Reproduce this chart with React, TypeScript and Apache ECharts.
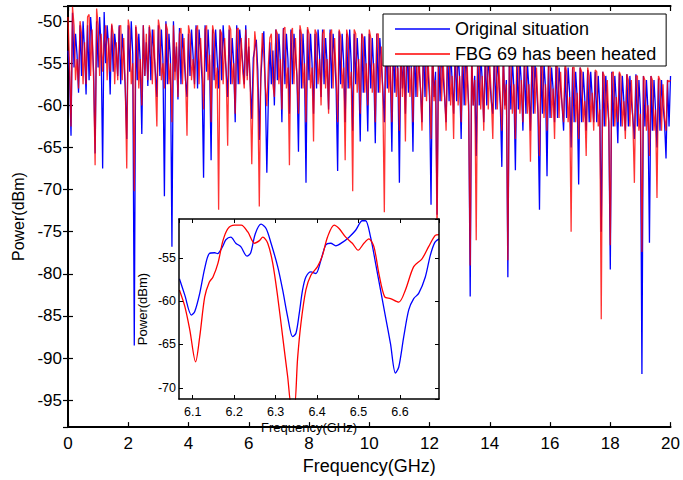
import React, { useEffect, useRef } from "react";
import * as echarts from "echarts";

// Main spectrum: sampled every 0.05 GHz from 0 to 20 GHz (401 samples)
const STEP_GHZ = 0.05;

const BLUE_0_5 = [
  -53.5, -56, -63.6, -49, -55.5, -51.5, -54, -58.5, -50.5, -56.5,
  -50, -53.5, -58.7, -50.5, -57, -49.5, -52, -56, -65.7, -50,
  -55.5, -49.5, -53, -67.5, -48.9, -55, -50.5, -53, -58.7, -50.5,
  -56, -51.5, -53.5, -56.5, -50.5, -57.5, -51.5, -54, -58, -64,
  -50.5, -56, -50, -54, -88.5, -50.7, -57, -51.5, -55, -63.4,
  -50.5, -56.5, -52.5, -57.7, -50.7, -57, -51, -53.5, -56, -59,
  -50.5, -56.5, -51, -54.5, -70.8, -50, -57.5, -51.5, -54.5, -76.8,
  -50, -56, -53, -59.3, -50.8, -57.5, -51.5, -54, -57, -59,
  -51.5, -56.5, -51, -54, -57.5, -50.5, -58, -51, -53.5, -57,
  -68.6, -50.5, -56, -51, -55, -66.5, -51, -57, -51, -54.5,
];
const BLUE_5_10 = [
  -58, -51, -57, -50.5, -53.5, -56, -59, -51, -57.5, -52,
  -55, -62, -50.5, -57.5, -51, -53, -55, -57.5, -50.5, -56.5,
  -53, -57.5, -61.6, -54.4, -53.3, -52.2, -55.8, -64.1, -56.8, -53.6,
  -51.2, -58.2, -68, -59.3, -52.5, -57.5, -53.5, -60, -51, -57,
  -51.5, -55, -62, -50.8, -57.5, -51.5, -54.5, -61, -51, -57.5,
  -51.5, -54, -56.5, -65.5, -51, -58, -51.5, -55.5, -69.2, -51,
  -57, -51.5, -55, -61, -51.5, -58, -51, -54, -59, -51,
  -57.5, -52, -55, -60.5, -51, -58, -51.5, -54, -58, -67.8,
  -51.2, -57.5, -51.5, -55, -62, -51.5, -58, -51, -55, -63,
  -51.5, -57.5, -52, -55.5, -64.3, -51.5, -58.5, -51.8, -56, -63.1,
];
const BLUE_10_15 = [
  -51.5, -58, -52, -56, -64.5, -51.5, -58.5, -52, -55, -58,
  -62, -52, -58, -52, -56, -65.5, -52, -58.5, -52.5, -56,
  -69.2, -52, -58, -54.5, -61, -52.5, -58.5, -52, -56, -65.5,
  -52.5, -59, -52.5, -55.5, -58, -62, -52.5, -59, -53, -56,
  -59, -71.8, -53, -59, -56, -73, -53, -59.5, -53.5, -56.5,
  -59, -62, -53, -59.5, -53.5, -57, -61, -53.5, -59.5, -53.5,
  -57, -64, -53.5, -60, -54, -56.5, -60, -82.7, -54, -60,
  -56.5, -66, -54, -60, -54, -57, -62, -54, -60, -54,
  -57, -59.5, -61, -54, -60.5, -54.5, -57, -60, -67.3, -54,
  -60, -57, -80.4, -54, -60.5, -54.5, -58, -67.7, -54.5, -60.5,
];
const BLUE_15_20 = [
  -54.5, -57.5, -63, -54.5, -61, -55, -58, -63, -54.5, -61,
  -55, -57.5, -61, -72.4, -55, -61, -55, -58, -68.4, -55,
  -61.5, -55.5, -58, -62, -55, -61.5, -55.5, -58, -60, -63,
  -55.5, -61.5, -55.5, -58.5, -65, -55.5, -62, -56, -59, -69.4,
  -55.5, -62, -56, -59, -63, -55.8, -62, -56, -59, -62,
  -56, -62, -56.5, -60, -75, -56, -62.5, -56.5, -59.5, -62,
  -79.5, -56, -62.5, -56.5, -59.5, -64.5, -56.2, -62.5, -56.5, -59.5,
  -63, -56.3, -62.5, -56.5, -59.5, -61.5, -64, -56.3, -62.5, -57,
  -60.5, -91.9, -56.5, -62.5, -57, -60.5, -76.3, -56.5, -63, -57,
  -60.5, -65, -56.8, -63, -57, -60, -62, -66.3, -57, -62.5,
  -56.5,
];

const RED_0_5 = [
  -49.5, -55, -62.5, -48.3, -50.5, -57, -54.5, -58, -50, -51.5,
  -57.5, -52.5, -57.5, -49.5, -49.2, -56.5, -51, -57, -67.1, -48.5,
  -50.5, -56.5, -51.5, -56, -52.5, -50.5, -57, -52, -56, -50.3,
  -51.5, -57.5, -52.5, -57, -50.7, -50.5, -57, -52, -57.5, -67.5,
  -49.8, -51, -57.5, -55, -70.2, -50.5, -52, -58, -54.5, -60,
  -50.5, -56.5, -51.5, -57, -50.5, -52, -57.5, -51, -57, -62.5,
  -49.8, -51, -57, -55, -58, -50.3, -51, -57.5, -55, -62,
  -50.5, -57, -52.5, -59, -51.5, -50.8, -57.5, -52, -56.5, -63.6,
  -50.5, -51.5, -57, -54.5, -58, -51, -50.5, -57.5, -52, -55.5,
  -60.5, -51, -50.5, -57, -54, -62, -50.5, -51.5, -58, -55.5,
];
const RED_5_10 = [
  -72.4, -51, -51.5, -57.5, -52, -56, -64.8, -50.5, -51, -57.5,
  -55, -61, -51, -50.8, -57.5, -52, -56, -58, -51, -57,
  -52, -58, -67, -57.2, -51.2, -53.2, -58.5, -72, -56, -51.4,
  -54, -57.8, -60.1, -55.3, -52, -51.5, -57.5, -59, -51, -51.5,
  -57.5, -54.5, -60.5, -51, -50.7, -58, -55.5, -67.1, -51.5, -50.8,
  -57.5, -52, -57, -61, -50.5, -51.5, -58, -55, -62, -50.7,
  -51.5, -58, -55.5, -64.3, -51, -51.5, -57.5, -54.5, -60, -51.5,
  -51, -58, -54.5, -61, -51.5, -51, -58, -52, -56.5, -62,
  -51, -51.8, -58, -55.5, -66.5, -51, -52, -58, -56, -70.2,
  -51, -51.5, -58.5, -54.5, -61, -51.5, -52, -58.5, -55, -60,
];
const RED_10_15 = [
  -51, -52, -58.5, -55, -62, -51.5, -51.5, -58.5, -53, -59,
  -72.7, -51.5, -52.5, -58.5, -55, -62, -52, -52, -59, -55.5,
  -63, -52.5, -59, -55, -64.3, -52, -52.5, -59, -55.5, -62,
  -52, -53, -59, -54, -58, -63, -52.5, -52.5, -59.5, -54.5,
  -58, -64, -52.5, -59.5, -57, -76, -53, -53, -59.5, -54.5,
  -58.5, -63, -53.5, -53, -60, -56.5, -64, -53, -54, -60,
  -56.5, -62, -53.5, -53.5, -60, -55, -61, -79, -53.5, -60,
  -57, -76, -53.5, -54.5, -60.5, -56.5, -63, -54, -54.5, -60.5,
  -55, -59, -64, -54, -54, -60.5, -55, -59, -63, -54,
  -60.5, -57.5, -78.4, -54, -54.5, -61, -57.5, -64, -54, -54,
];
const RED_15_20 = [
  -61, -57, -62, -54.5, -54.5, -61, -57.5, -66.7, -54.5, -55,
  -61, -55.5, -60, -66, -54.5, -55.5, -61.5, -57.5, -63, -55,
  -55, -61.5, -58, -64, -55, -55.5, -61.5, -56, -60, -62,
  -55, -56, -62, -59, -75, -55.5, -55.5, -62, -58.5, -64,
  -55.5, -56, -62, -59.5, -66, -55.5, -56.5, -62, -58.5, -63,
  -55.8, -56, -62.5, -60.5, -85.4, -56, -56.5, -62.5, -57, -62,
  -76.6, -56.2, -56, -62.5, -59, -62, -56, -56.5, -62.5, -59.5,
  -64, -56.3, -57, -62.5, -57, -62, -69.2, -56.5, -56.5, -63,
  -61, -77.4, -56.5, -57, -63, -60, -66, -56.5, -57, -63,
  -60.5, -71, -56.5, -57, -63, -57.5, -61.5, -63, -57, -57.2,
  -57,
];

// Inset (zoom 6.07 - 6.69 GHz)
const INSET_BLUE_F = [
  6.068, 6.081, 6.097, 6.105, 6.117, 6.129, 6.14, 6.153, 6.16, 6.173,
  6.18, 6.192, 6.204, 6.216, 6.231, 6.24, 6.251, 6.265, 6.277, 6.289,
  6.305, 6.317, 6.329, 6.341, 6.349, 6.357, 6.365, 6.373, 6.385, 6.397,
  6.409, 6.421, 6.433, 6.445, 6.461, 6.477, 6.493, 6.509, 6.517, 6.529,
  6.541, 6.553, 6.565, 6.577, 6.589, 6.597, 6.609, 6.621, 6.633, 6.645,
  6.661, 6.673, 6.684, 6.694,
];
const INSET_BLUE_P = [
  -57.4, -59.3, -61.6, -61.2, -59.1, -56.2, -54.5, -54.4, -54.5, -53.6,
  -52.9, -52.6, -53.3, -53.7, -54.8, -54.4, -52.2, -51.1, -51.6, -53.3,
  -56.0, -58.7, -61.8, -64.1, -63.7, -61.4, -58.7, -57.2, -56.6, -56.8,
  -55.3, -53.5, -53.3, -53.6, -53.2, -52.6, -51.8, -50.7, -50.7, -52.6,
  -55.6, -58.7, -61.8, -64.9, -68.3, -67.6, -64.1, -61.0, -59.7, -59.1,
  -57.2, -54.7, -53.2, -52.8,
];
const INSET_RED_F = [
  6.068, 6.081, 6.093, 6.107, 6.117, 6.129, 6.14, 6.149, 6.161, 6.173,
  6.185, 6.201, 6.217, 6.233, 6.249, 6.261, 6.269, 6.281, 6.293, 6.305,
  6.317, 6.329, 6.339, 6.345, 6.353, 6.361, 6.373, 6.385, 6.401, 6.413,
  6.425, 6.441, 6.453, 6.469, 6.485, 6.499, 6.513, 6.525, 6.537, 6.549,
  6.563, 6.577, 6.597, 6.613, 6.633, 6.653, 6.669, 6.685, 6.694,
];
const INSET_RED_P = [
  -58.7, -60.6, -63.3, -67.0, -64.1, -59.5, -57.8, -57.2, -55.6, -53.0,
  -51.6, -51.2, -51.2, -52.0, -53.3, -53.0, -52.6, -53.3, -55.6, -59.5,
  -64.1, -68.7, -72.3, -72.3, -66.6, -62.6, -58.7, -57.0, -56.0, -54.7,
  -52.6, -51.2, -51.6, -52.6, -53.3, -54.1, -53.3, -52.8, -53.7, -56.8,
  -59.5, -59.7, -60.1, -58.7, -56.0, -55.1, -53.7, -52.4, -52.3,
];

const SERIES_NAMES = ["Original situation", "FBG 69 has been heated"];
const X_MAIN = [0, 20];
const Y_MAIN = [-98.2, -48.2];
const X_INSET = [6.067, 6.694];
const Y_INSET = [-71.3, -50.5];

const FONT = "'Liberation Sans', Arial, Helvetica, sans-serif";

function toPairs(vals: number[]) {
  return vals.map((v, i) => [+(i * STEP_GHZ).toFixed(2), v]);
}
function zipPairs(f: number[], p: number[]) {
  return f.map((x, i) => [x, p[i]]);
}

export default function App() {
  const ref = useRef<HTMLDivElement>(null);

  useEffect(() => {
    if (!ref.current) return;
    const chart = echarts.init(ref.current, undefined, { renderer: "svg" });

    const blue = [...BLUE_0_5, ...BLUE_5_10, ...BLUE_10_15, ...BLUE_15_20];
    const red = [...RED_0_5, ...RED_5_10, ...RED_10_15, ...RED_15_20];

    const axisLineMain = { show: true, lineStyle: { color: "#000", width: 2 } };
    const axisLineInset = { show: true, lineStyle: { color: "#000", width: 1.5 } };
    const tickMain = { show: true, inside: true, length: 5, lineStyle: { color: "#000", width: 1.2 } };
    const tickInset = { show: true, inside: true, length: 4, lineStyle: { color: "#000", width: 1 } };

    const option: any = {
      animation: false,
      backgroundColor: "#fff",
      grid: [
        { left: 68, top: 6, width: 605, height: 426, containLabel: false },
        {
          left: 179, top: 219, width: 260, height: 180, containLabel: false,
          show: true, backgroundColor: "#fff", borderWidth: 0, z: 10,
        },
      ],
      legend: {
        show: true,
        selectedMode: false,
        orient: "vertical",
        left: 383,
        top: 14,
        padding: [6, 10, 3, 12],
        icon: "rect",
        itemWidth: 55,
        itemHeight: 1.6,
        itemGap: 7,
        borderColor: "#000",
        borderWidth: 1,
        backgroundColor: "#fff",
        textStyle: { fontSize: 18, fontFamily: FONT, color: "#000" },
        data: SERIES_NAMES,
        z: 20,
      },
      xAxis: [
        {
          type: "value", gridIndex: 0, position: "bottom",
          min: X_MAIN[0], max: X_MAIN[1], interval: 2,
          axisLine: axisLineMain, axisTick: tickMain, splitLine: { show: false },
          axisLabel: { fontSize: 17, fontFamily: FONT, color: "#000", margin: 8 },
          name: "Frequency(GHz)", nameLocation: "middle", nameGap: 26,
          nameTextStyle: { fontSize: 18, fontFamily: FONT, color: "#000" },
        },
        {
          type: "value", gridIndex: 0, position: "top",
          min: X_MAIN[0], max: X_MAIN[1], interval: 2,
          axisLine: axisLineMain, axisTick: tickMain, splitLine: { show: false },
          axisLabel: { show: false },
        },
        {
          type: "value", gridIndex: 1, position: "bottom", z: 15,
          min: X_INSET[0], max: X_INSET[1], splitNumber: 6,
          axisLine: axisLineInset, axisTick: tickInset, splitLine: { show: false },
          axisLabel: {
            fontSize: 12.5, fontFamily: FONT, color: "#000", margin: 6,
            showMinLabel: false, showMaxLabel: false,
          },
          name: "Frequency(GHz)", nameLocation: "middle", nameGap: 22,
          nameTextStyle: { fontSize: 13, fontFamily: FONT, color: "#000" },
        },
        {
          type: "value", gridIndex: 1, position: "top", z: 15,
          min: X_INSET[0], max: X_INSET[1], splitNumber: 6,
          axisLine: axisLineInset, axisTick: tickInset, splitLine: { show: false },
          axisLabel: { show: false },
        },
      ],
      yAxis: [
        {
          type: "value", gridIndex: 0, position: "left",
          min: Y_MAIN[0], max: Y_MAIN[1], splitNumber: 10,
          axisLine: axisLineMain, axisTick: tickMain, splitLine: { show: false },
          axisLabel: {
            fontSize: 17, fontFamily: FONT, color: "#000", margin: 6,
            showMinLabel: false, showMaxLabel: false,
          },
          name: "Power(dBm)", nameLocation: "middle", nameGap: 41,
          nameTextStyle: { fontSize: 16, fontFamily: FONT, color: "#000" },
        },
        {
          type: "value", gridIndex: 0, position: "right",
          min: Y_MAIN[0], max: Y_MAIN[1], splitNumber: 10,
          axisLine: axisLineMain, axisTick: tickMain, splitLine: { show: false },
          axisLabel: { show: false },
        },
        {
          type: "value", gridIndex: 1, position: "left", z: 15,
          min: Y_INSET[0], max: Y_INSET[1], splitNumber: 4,
          axisLine: axisLineInset, axisTick: tickInset, splitLine: { show: false },
          axisLabel: {
            fontSize: 12.5, fontFamily: FONT, color: "#000", margin: 3,
            showMinLabel: false, showMaxLabel: false,
          },
          name: "Power(dBm)", nameLocation: "middle", nameGap: 30,
          nameTextStyle: { fontSize: 13, fontFamily: FONT, color: "#000" },
        },
        {
          type: "value", gridIndex: 1, position: "right", z: 15,
          min: Y_INSET[0], max: Y_INSET[1], splitNumber: 4,
          axisLine: axisLineInset, axisTick: tickInset, splitLine: { show: false },
          axisLabel: { show: false },
        },
      ],
      series: [
        {
          name: SERIES_NAMES[0], type: "line", xAxisIndex: 0, yAxisIndex: 0,
          data: toPairs(blue), symbol: "none", showSymbol: false,
          lineStyle: { color: "#0000ff", width: 1.3 }, itemStyle: { color: "#0000ff" },
          z: 2,
        },
        {
          name: SERIES_NAMES[1], type: "line", xAxisIndex: 0, yAxisIndex: 0,
          data: toPairs(red), symbol: "none", showSymbol: false,
          lineStyle: { color: "#ff0000", width: 1.3, opacity: 0.8 }, itemStyle: { color: "#ff0000" },
          z: 3,
        },
        {
          name: "inset-original", type: "line", xAxisIndex: 2, yAxisIndex: 2,
          data: zipPairs(INSET_BLUE_F, INSET_BLUE_P), symbol: "none", showSymbol: false,
          smooth: 0.3, lineStyle: { color: "#0000ff", width: 1.3 }, z: 12,
        },
        {
          name: "inset-heated", type: "line", xAxisIndex: 2, yAxisIndex: 2,
          data: zipPairs(INSET_RED_F, INSET_RED_P), symbol: "none", showSymbol: false,
          smooth: 0.3, lineStyle: { color: "#ff0000", width: 1.3 }, z: 13,
        },
      ],
    };

    chart.setOption(option);
    return () => chart.dispose();
  }, []);

  return (
    <div
      style={{ position: "fixed", left: 0, top: 0, width: 683, height: 480, background: "#fff" }}
    >
      <div ref={ref} style={{ width: 683, height: 480 }} />
    </div>
  );
}
